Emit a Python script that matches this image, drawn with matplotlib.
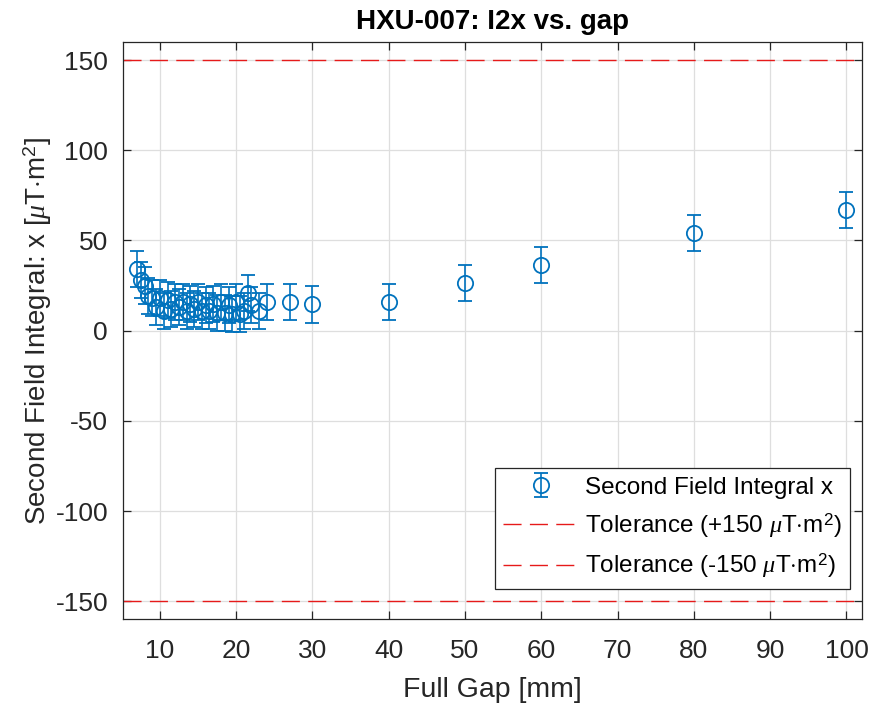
import numpy as np
import matplotlib
matplotlib.use("Agg")
import matplotlib.pyplot as plt

plt.rcParams['font.family'] = ['Liberation Sans', 'DejaVu Sans']
plt.rcParams['mathtext.fontset'] = 'custom'
plt.rcParams['mathtext.rm'] = 'Liberation Sans'
plt.rcParams['mathtext.it'] = 'Liberation Serif:italic'
plt.rcParams['axes.unicode_minus'] = False

# data
gap = [7, 7.5, 8, 8.5, 9, 9.5, 10, 10.5, 11, 11.5, 12, 12.5, 13, 13.5, 14, 14.5,
       15, 15.5, 16, 16.5, 17, 17.5, 18, 18.5, 19, 19.5, 20, 20.5, 21, 21.5, 22,
       23, 24, 27, 30, 40, 50, 60, 80, 100]
i2x = [34, 28, 25, 19, 18, 13, 18, 11, 17, 12, 16, 13, 16, 11, 15, 12,
       16, 11, 14, 11, 15, 10, 16, 10, 14, 9, 16, 9, 11, 21, 14,
       11, 16, 16, 14.5, 16, 26.5, 36.5, 54, 67]
i2x_err = [10] * len(gap)
tol = 150

blue = '#0072BD'
dark = '#262626'

fig = plt.figure(figsize=(8.72, 7.09), dpi=100)
ax = fig.add_axes([0.1414, 0.1265, 0.8468, 0.8143])

ax.errorbar(gap, i2x, yerr=i2x_err, fmt='o', color=blue, mfc='none',
            markersize=11, mew=1.3, elinewidth=1.2, capsize=4.7, capthick=1.2,
            label='Second Field Integral x', zorder=3)
ax.axhline(tol, color=(0.9, 0.1, 0.1), lw=1.0, dashes=(13, 6),
           label=r'Tolerance (+150 $\mu$T$\cdot$m$^2$)')
ax.axhline(-tol, color=(0.9, 0.1, 0.1), lw=1.0, dashes=(13, 6),
           label=r'Tolerance (-150 $\mu$T$\cdot$m$^2$)')

ax.set_xlim(5.2, 102)
ax.set_ylim(-160, 160)
ax.set_xticks(np.arange(10, 101, 10))
ax.set_yticks(np.arange(-150, 151, 50))
ax.grid(True, color='#dedede', lw=0.9)
ax.set_axisbelow(True)
ax.tick_params(direction='in', length=5.5, width=0.9, top=True, right=True,
               labelsize=19, colors=dark)
ax.tick_params(axis='x', pad=14)
ax.tick_params(axis='y', pad=11)
for s in ax.spines.values():
    s.set_color(dark)
    s.set_linewidth(0.9)

ax.set_title('HXU-007: I2x vs. gap', fontsize=20, fontweight='bold', pad=9)
ax.set_xlabel('Full Gap [mm]', fontsize=20.5, color=dark, labelpad=10)
ax.set_ylabel(r'Second Field Integral: x [$\mu$T$\cdot$m$^2$]', fontsize=20,
              color=dark, labelpad=1)

h, l = ax.get_legend_handles_labels()
order = [2, 0, 1] if l[2].startswith('Second') else [0, 1, 2]
leg = ax.legend([h[i] for i in order], [l[i] for i in order],
                loc='lower right', bbox_to_anchor=(0.984, 0.0525), fontsize=17.5,
                fancybox=False, framealpha=1, edgecolor=dark, handlelength=3.1,
                handletextpad=0.25, labelspacing=0.5, borderaxespad=0,
                borderpad=0.35)
leg.get_frame().set_linewidth(0.9)

fig.savefig('out.png', dpi=100)
